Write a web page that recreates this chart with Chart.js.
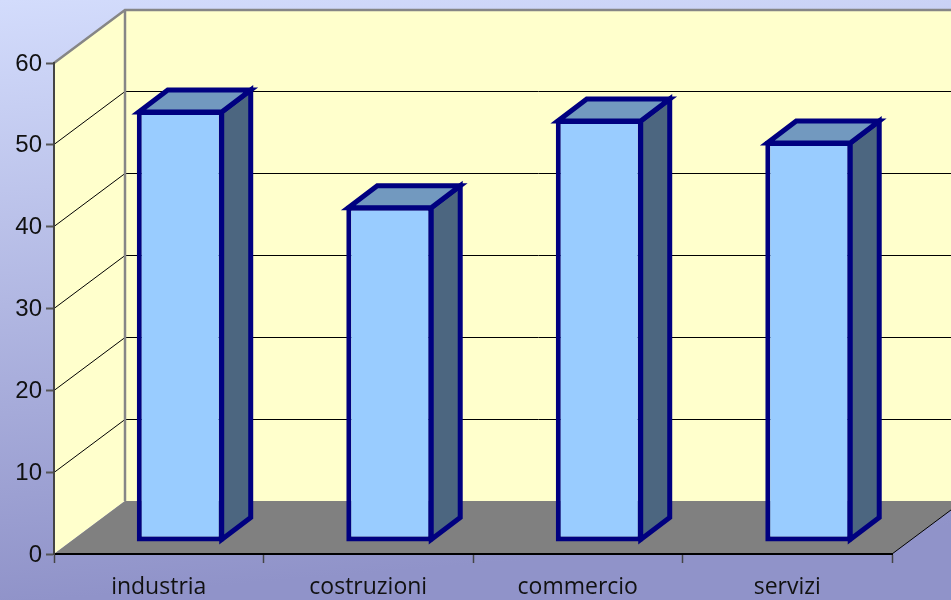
<!DOCTYPE html>
<html>
<head>
<meta charset="utf-8">
<style>html,body{margin:0;padding:0;background:#9f9fd0;overflow:hidden}canvas{display:block}</style>
<script src="https://cdn.jsdelivr.net/npm/chart.js@4"></script>
</head>
<body>
<canvas id="c" width="951" height="600"></canvas>
<script>
const categories = ['industria', 'costruzioni', 'commercio', 'servizi'];
const values = [52.8, 41.1, 51.7, 49.0];
const yTicks = [0, 10, 20, 30, 40, 50, 60];

const DEPTH = {x: 71, y: 53};
const BAR_SHIFT = {x: 21.5, y: 12};
const BAR_DEPTH = {x: 29, y: 22};

const scene = {
  id: 'scene',
  beforeDraw(chart) {
    const {ctx, scales: {x, y}} = chart;
    const L = x.left, R = x.right, B = y.getPixelForValue(0), T = y.getPixelForValue(60);
    const g = ctx.createLinearGradient(0, 0, 50, 600);
    g.addColorStop(0, '#d3dcfc');
    g.addColorStop(1, '#9093c9');
    ctx.save();
    ctx.fillStyle = g;
    ctx.fillRect(0, 0, chart.width, chart.height);
    // back wall
    ctx.fillStyle = '#ffffcc';
    ctx.fillRect(L + DEPTH.x, T - DEPTH.y, R - L + 10, B - T);
    // left wall
    ctx.beginPath();
    ctx.moveTo(L, B); ctx.lineTo(L, T);
    ctx.lineTo(L + DEPTH.x, T - DEPTH.y); ctx.lineTo(L + DEPTH.x, B - DEPTH.y);
    ctx.closePath(); ctx.fill();
    // floor
    ctx.fillStyle = '#808080';
    ctx.beginPath();
    ctx.moveTo(L, B); ctx.lineTo(R, B);
    ctx.lineTo(R + DEPTH.x, B - DEPTH.y); ctx.lineTo(L + DEPTH.x, B - DEPTH.y);
    ctx.closePath(); ctx.fill();
    // gridlines
    ctx.strokeStyle = '#000000';
    ctx.lineWidth = 1;
    yTicks.slice(1, -1).forEach(v => {
      const p = Math.floor(y.getPixelForValue(v)) + 0.5;
      ctx.beginPath();
      ctx.moveTo(L, p);
      ctx.lineTo(L + DEPTH.x, p - DEPTH.y);
      ctx.lineTo(R + DEPTH.x, p - DEPTH.y);
      ctx.stroke();
    });
    // floor right edge
    ctx.beginPath();
    ctx.moveTo(R, B); ctx.lineTo(R + DEPTH.x, B - DEPTH.y);
    ctx.stroke();
    // wall edges
    ctx.strokeStyle = '#868686';
    ctx.lineWidth = 2.5;
    ctx.beginPath();
    ctx.moveTo(L, T);
    ctx.lineTo(L + DEPTH.x, T - DEPTH.y);
    ctx.lineTo(R + DEPTH.x, T - DEPTH.y);
    ctx.moveTo(L + DEPTH.x, T - DEPTH.y);
    ctx.lineTo(L + DEPTH.x, B - DEPTH.y);
    ctx.stroke();
    ctx.restore();
  },
  beforeDatasetDraw(chart) {
    const ctx = chart.ctx;
    ctx.save();
    ctx.translate(BAR_SHIFT.x, -BAR_SHIFT.y);
    const inset = 2;
    ctx.lineWidth = 5;
    ctx.strokeStyle = '#000080';
    ctx.lineJoin = 'miter';
    chart.getDatasetMeta(0).data.forEach(b => {
      const l = b.x - b.width / 2 + inset, r = b.x + b.width / 2 - inset;
      const t = b.y + inset, bo = b.base - inset;
      ctx.fillStyle = '#4c6680';
      ctx.beginPath();
      ctx.moveTo(r, t); ctx.lineTo(r + BAR_DEPTH.x, t - BAR_DEPTH.y);
      ctx.lineTo(r + BAR_DEPTH.x, bo - BAR_DEPTH.y); ctx.lineTo(r, bo);
      ctx.closePath(); ctx.fill(); ctx.stroke();
      ctx.fillStyle = '#7299bf';
      ctx.beginPath();
      ctx.moveTo(l, t); ctx.lineTo(l + BAR_DEPTH.x, t - BAR_DEPTH.y);
      ctx.lineTo(r + BAR_DEPTH.x, t - BAR_DEPTH.y); ctx.lineTo(r, t);
      ctx.closePath(); ctx.fill(); ctx.stroke();
    });
  },
  afterDatasetDraw(chart) {
    chart.ctx.restore();
  }
};

new Chart(document.getElementById('c'), {
  type: 'bar',
  data: {
    labels: categories,
    datasets: [{
      data: values,
      backgroundColor: '#99ccff',
      borderColor: '#000080',
      borderWidth: 5,
      borderSkipped: false,
      barPercentage: 0.415,
      categoryPercentage: 1
    }]
  },
  plugins: [scene],
  options: {
    responsive: false,
    animation: false,
    layout: {padding: {top: 63, right: 59, left: 0, bottom: 0}},
    plugins: {legend: {display: false}, tooltip: {enabled: false}, title: {display: false}},
    scales: {
      x: {
        afterFit(s) { s.height = 46; },
        border: {display: true, color: '#000000', width: 2},
        grid: {display: true, drawOnChartArea: false, drawTicks: true, tickLength: 9, tickColor: '#444444', tickWidth: 1.5, offset: true},
        ticks: {color: '#111111', padding: 11, maxRotation: 0, font: {family: '"Open Sans"', size: 23}}
      },
      y: {
        min: 0, max: 60,
        afterFit(s) { s.width = 54; },
        afterBuildTicks(s) { s.ticks = yTicks.map(v => ({value: v})); },
        border: {display: true, color: '#444444', width: 2},
        grid: {display: true, drawOnChartArea: false, drawTicks: true, tickLength: 8, tickColor: '#555555', tickWidth: 2},
        ticks: {color: '#111111', padding: 4, labelOffset: 1, font: {family: '"Liberation Sans"', size: 24}}
      }
    }
  }
});
</script>
</body>
</html>
